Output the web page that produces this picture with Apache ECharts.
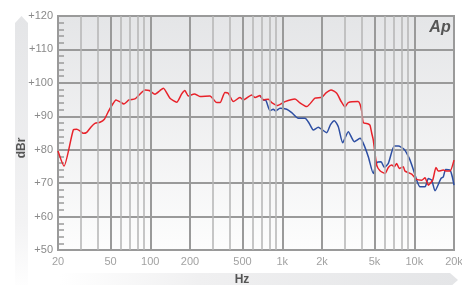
<!DOCTYPE html>
<html>
<head>
<meta charset="utf-8">
<script src="https://cdn.jsdelivr.net/npm/echarts@6/dist/echarts.min.js"></script>
<style>
  html, body { margin: 0; padding: 0; background: #fff; }
  #chart { width: 462px; height: 285px; }
</style>
</head>
<body>
<div id="chart"></div>
<script>
// red trace (Hz / dBr)
var redFreq = [20, 22.2, 26.1, 27.7, 29.4, 31.1, 33, 35.6, 38.1, 41.6, 44.9, 48.1, 51.3, 55, 59, 63.2, 69, 76.6, 81.1, 91.2,
  98.3, 108.6, 118.5, 125.6, 141, 158.6, 173, 183, 194, 216, 238, 283, 319, 338, 368, 390, 426, 478, 507, 587,
  622, 678, 719, 784, 832, 923, 1049, 1249, 1363, 1532, 1770, 1990, 2145, 2340, 2585, 2786, 2988, 3164, 3748, 3882,
  4000, 4112, 4486, 4620, 4758, 4894, 5194, 5500, 6002, 6360, 6746, 7058, 7360, 7702, 8258, 8508, 9562, 10436, 11384, 12060,
  12776, 13792, 14610, 15210, 16596, 17610, 18652, 20000];
var redDb = [79.6, 75.1, 85.9, 86.1, 85.6, 84.9, 85.2, 86.8, 87.9, 88.2, 89.1, 91.4, 93.3, 94.9, 94.3, 93.7, 94.9, 95.2, 96.1, 97.9,
  97.7, 96.6, 97.7, 98.4, 95.4, 94.2, 96.7, 97.7, 96.1, 96.7, 95.9, 96.1, 94.1, 94.1, 97.1, 96.9, 94.4, 95.6, 94.9, 96.4,
  95.6, 96.2, 94.9, 95.1, 94.1, 93.2, 94.4, 95.2, 94.0, 92.9, 95.4, 95.7, 97.0, 97.9, 96.9, 94.5, 92.8, 94.1, 94.4, 93.6,
  91.5, 88.1, 87.7, 87.3, 85.0, 82.9, 75.4, 73.7, 72.9, 74.7, 75.4, 74.9, 75.9, 74.4, 74.9, 73.6, 72.7, 71.1, 70.9, 71.6,
  69.4, 70.9, 74.7, 73.6, 73.9, 73.6, 73.6, 76.9];

// blue trace (same as red below ~700 Hz)
var blueFreq = [678, 719, 753, 807, 855, 892, 961, 1081, 1179, 1323, 1487, 1594, 1719, 1875, 2000, 2171, 2320, 2480, 2658, 2870,
  3164, 3514, 3882, 4112, 4486, 4894, 5194, 5598, 5930, 6360, 7058, 7568, 8406, 9170, 9834, 10436, 11054, 12060, 12776, 13554,
  14360, 15942, 16596, 17306, 18652, 19414, 20000];
var blueDb = [96.2, 94.9, 94.7, 91.7, 92.1, 91.6, 92.4, 92.1, 91.1, 89.4, 89.4, 88.0, 85.9, 86.7, 86.0, 85.1, 87.5, 88.7, 86.9, 82.1,
  85.4, 82.4, 83.4, 81.9, 77.9, 72.9, 76.1, 76.4, 74.7, 75.9, 81.1, 81.1, 80.1, 77.4, 74.1, 70.9, 68.9, 68.9, 71.4, 70.9,
  67.7, 71.4, 71.9, 74.1, 73.9, 71.9, 69.4];

// frequency grid / tick labels
var majorFreq = [50, 100, 200, 500, 1000, 2000, 5000, 10000];
var minorFreq = [30, 40, 60, 70, 80, 90, 300, 400, 600, 700, 800, 900, 3000, 4000, 6000, 7000, 8000, 9000];
var labelFreq = [20, 50, 100, 200, 500, 1000, 2000, 5000, 10000, 20000];

function pairs(xs, ys) {
  return xs.map(function (x, i) { return [x, ys[i]]; });
}
function hzLabel(v) {
  return v >= 1000 ? (v / 1000) + 'k' : String(v);
}

var gridLines = [];
minorFreq.forEach(function (f) {
  gridLines.push({ xAxis: f, lineStyle: { color: '#b4b4b4', width: 1.5, type: 'solid' } });
});
majorFreq.forEach(function (f) {
  gridLines.push({ xAxis: f, lineStyle: { color: '#9a9a9a', width: 2, type: 'solid' } });
});

var myChart = echarts.init(document.getElementById('chart'));
var option = {
  animation: false,
  textStyle: { fontFamily: 'Liberation Sans, Arial, sans-serif' },
  grid: {
    left: 58, right: 8, top: 16, bottom: 35,
    show: true,
    borderColor: '#9a9a9a',
    borderWidth: 2,
    backgroundColor: new echarts.graphic.LinearGradient(0, 0, 0, 1, [
      { offset: 0, color: '#e4e5e7' },
      { offset: 1, color: '#fdfdfd' }
    ])
  },
  xAxis: {
    type: 'log',
    logBase: 10,
    min: 20,
    max: 20000,
    axisLine: { show: false },
    axisTick: { show: false },
    axisLabel: { show: false },
    splitLine: { show: false }
  },
  yAxis: {
    type: 'value',
    min: 50,
    max: 120,
    interval: 10,
    axisLine: { show: true, lineStyle: { color: '#9a9a9a', width: 2 } },
    axisTick: { show: false, inside: true },
    minorTick: { show: true, splitNumber: 5, length: 6, lineStyle: { color: '#9a9a9a', width: 1.5 } },
    axisLabel: {
      color: '#8a8a8a', fontSize: 11, margin: 5,
      formatter: function (v) { return '+' + v; }
    },
    splitLine: { show: true, lineStyle: { color: '#9a9a9a', width: 2 } }
  },
  graphic: [
    {
      type: 'polygon', silent: true, z: -1,
      shape: { points: [[15, 23], [21.5, 16], [28, 23], [28, 292], [15, 292]] },
      style: {
        fill: new echarts.graphic.LinearGradient(0, 0, 0, 1, [
          { offset: 0, color: '#e4e5e7' },
          { offset: 0.75, color: '#f3f3f4' },
          { offset: 1, color: '#ffffff' }
        ])
      }
    },
    {
      type: 'polygon', silent: true, z: -1,
      shape: { points: [[60, 273], [450, 273], [458, 280], [450, 287], [60, 287]] },
      style: {
        fill: new echarts.graphic.LinearGradient(0, 0, 1, 0, [
          { offset: 0, color: '#ffffff' },
          { offset: 0.35, color: '#f0f0f1' },
          { offset: 1, color: '#e4e5e7' }
        ])
      }
    },
    {
      type: 'text', silent: true, x: 21.5, y: 148, rotation: Math.PI / 2,
      style: { text: 'dBr', fill: '#555', font: 'bold 12px Liberation Sans, Arial, sans-serif', align: 'center', verticalAlign: 'middle' }
    },
    {
      type: 'text', silent: true, x: 242, y: 280,
      style: { text: 'Hz', fill: '#555', font: 'bold 12px Liberation Sans, Arial, sans-serif', align: 'center', verticalAlign: 'middle' }
    },
    {
      type: 'text', silent: true, x: 440, y: 28,
      style: { text: 'Ap', fill: '#555', font: 'italic bold 16px Liberation Sans, Arial, sans-serif', align: 'center', verticalAlign: 'middle' }
    }
  ],
  series: [
    {
      name: 'grid',
      type: 'line',
      data: [],
      silent: true,
      z: 1,
      markLine: {
        silent: true,
        symbol: 'none',
        animation: false,
        label: { show: false },
        emphasis: { disabled: true },
        data: gridLines
      }
    },
    {
      name: 'labels',
      type: 'scatter',
      silent: true,
      symbolSize: 0,
      clip: false,
      data: labelFreq.map(function (f) { return [f, 50]; }),
      label: {
        show: true, position: 'bottom', distance: 6,
        color: '#8a8a8a', fontSize: 11,
        formatter: function (p) { return hzLabel(p.value[0]); }
      }
    },
    {
      name: 'B',
      type: 'line',
      z: 3,
      data: pairs(blueFreq, blueDb),
      showSymbol: false,
      smooth: 0.2,
      lineStyle: { color: '#2e4fa3', width: 1.5 }
    },
    {
      name: 'A',
      type: 'line',
      z: 4,
      data: pairs(redFreq, redDb),
      showSymbol: false,
      smooth: 0.2,
      lineStyle: { color: '#e8222a', width: 1.5 }
    }
  ]
};
myChart.setOption(option);
</script>
</body>
</html>
